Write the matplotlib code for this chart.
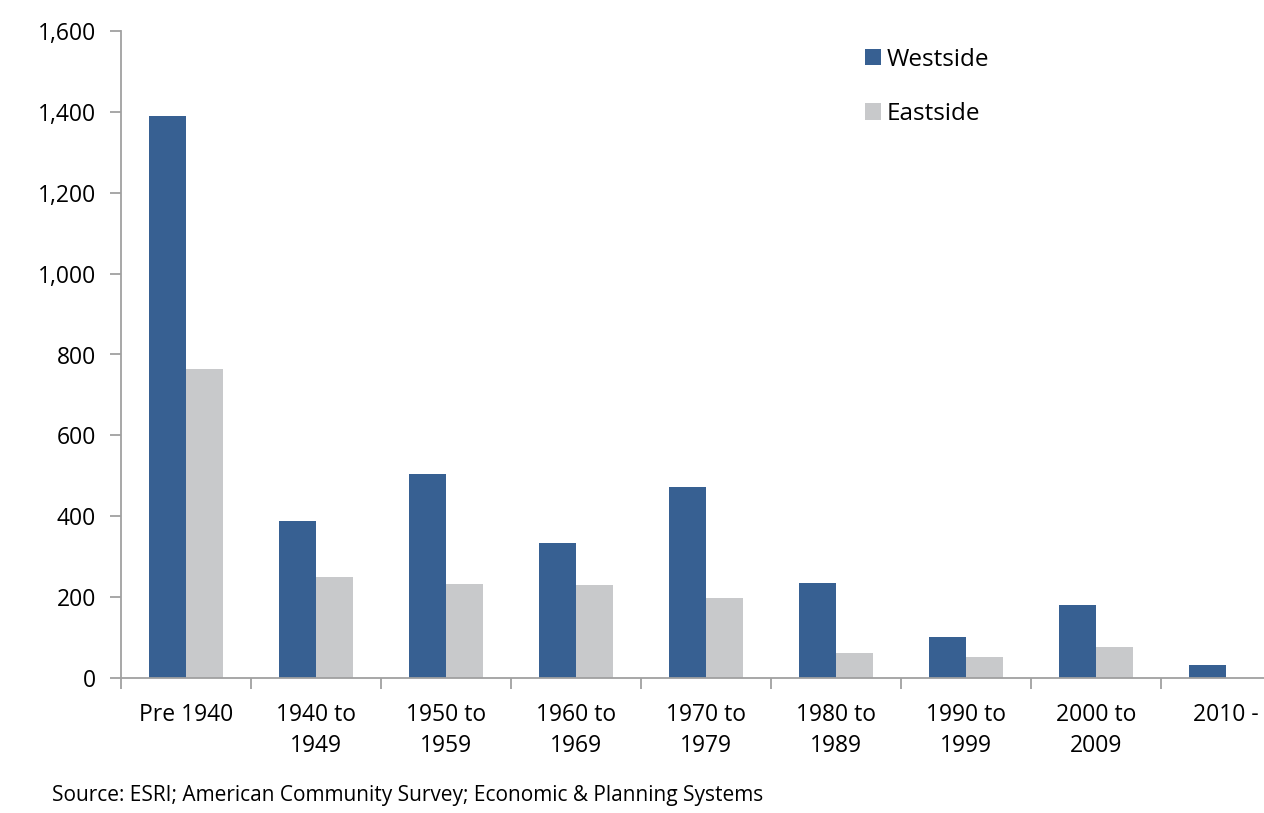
import numpy as np
import matplotlib
matplotlib.use('Agg')
import matplotlib.pyplot as plt
from matplotlib.ticker import FuncFormatter, FixedLocator

# data
categories = ['Pre 1940', '1940 to\n1949', '1950 to\n1959', '1960 to\n1969', '1970 to\n1979',
              '1980 to\n1989', '1990 to\n1999', '2000 to\n2009', '2010 -']
westside = [1390, 388, 504, 333, 472, 234, 102, 180, 31]
eastside = [763, 251, 233, 231, 199, 61, 51, 77, 0]

plt.rcParams['font.family'] = ['Open Sans', 'DejaVu Sans']

fig = plt.figure(figsize=(12.64, 8.13), dpi=100)
ax = fig.add_axes([121 / 1264, 1 - 678 / 813, 1170 / 1264, (678 - 31) / 813])

x = np.arange(len(categories))
w = 0.285
ax.bar(x - w / 2, westside, w, color='#376092', label='Westside')
ax.bar(x + w / 2, eastside, w, color='#c8c9cb', label='Eastside')

ax.set_xlim(-0.5, len(categories) - 0.5)
ax.set_ylim(0, 1600)
ax.set_yticks(range(0, 1601, 200))
ax.yaxis.set_major_formatter(FuncFormatter(lambda v, p: f'{int(v):,}'))

ax.set_xticks(x)
ax.set_xticklabels(categories, fontsize=16.5, linespacing=1.4)
ax.xaxis.set_minor_locator(FixedLocator(np.arange(-0.5, len(categories), 1)))
ax.tick_params(axis='x', which='major', length=0, pad=18)
ax.tick_params(axis='x', which='minor', length=8, color='#a0a0a0', width=1.3)
ax.tick_params(axis='y', length=8, color='#a0a0a0', width=1.3, labelsize=16.5, pad=10)

for s in ['top', 'right']:
    ax.spines[s].set_visible(False)
for s in ['left', 'bottom']:
    ax.spines[s].set_color('#a0a0a0')
    ax.spines[s].set_linewidth(1.3)

leg = ax.legend(loc='upper left', bbox_to_anchor=(0.617, 1.008), frameon=False, fontsize=17.5,
                handlelength=0.65, handleheight=0.65, handletextpad=0.25, labelspacing=1.25)

fig.text(52 / 1264, 1 - 795 / 813, 'Source: ESRI; American Community Survey; Economic & Planning Systems',
         fontsize=15, va='center', ha='left')

fig.savefig('out.png', dpi=100)
